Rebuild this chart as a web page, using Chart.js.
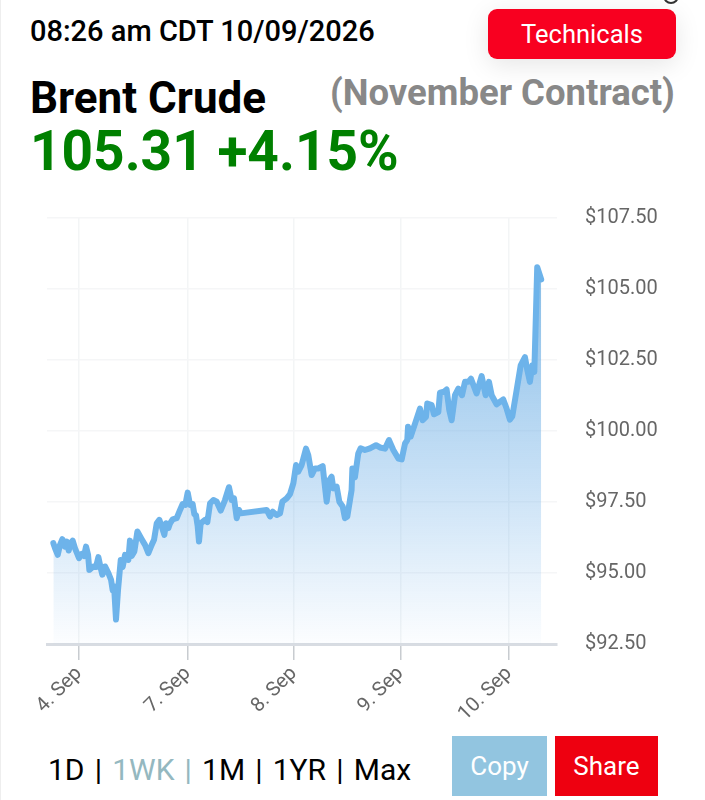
<!DOCTYPE html>
<html>
<head>
<meta charset="utf-8">
<script src="https://cdn.jsdelivr.net/npm/chart.js@4"></script>
<style>
html, body { margin: 0; padding: 0; background: #fff; }
body { width: 705px; height: 800px; position: relative; overflow: hidden; font-family: Roboto, sans-serif; }
.txt { position: absolute; white-space: nowrap; line-height: 1; }
#edge { position: absolute; left: 0; top: 0; width: 1px; height: 800px; background: #eee; }
#speck { position: absolute; left: 663px; top: -12px; width: 12px; height: 12px; border: 2px solid #333; border-radius: 50%; }
#stamp { left: 30px; top: 17px; font-size: 29px; font-weight: 500; color: #000; }
#tech { left: 488px; top: 9px; width: 188px; height: 50px; background: #f80020; border-radius: 9px; color: #fff; font-size: 25.5px; line-height: 50px; text-align: center; box-shadow: 0 6px 26px rgba(0,0,0,0.10); }
#name { left: 30px; top: 76px; font-size: 44px; font-weight: 700; color: #000; }
#contract { left: 330px; top: 75px; font-size: 36.5px; font-weight: 700; color: #888; }
#quote { left: 30px; top: 124px; font-size: 55px; font-weight: 700; color: #008000; }
#range { left: 48px; top: 755px; font-size: 30px; word-spacing: 2.7px; color: #000; white-space: pre; }
#range span { color: #94b8c0; }
.btn { position: absolute; top: 736px; height: 60px; line-height: 61px; text-align: center; color: #fff; font-size: 26px; }
#copy { left: 452px; width: 95px; background: #92c5e0; }
#share { left: 555px; width: 103px; background: #ee0010; }
#wrap { position: absolute; left: 0; top: 190px; width: 705px; height: 540px; }
</style>
</head>
<body>
<div id="edge"></div>
<div id="speck"></div>
<div class="txt" id="stamp">08:26 am CDT 10/09/2026</div>
<div class="txt" id="tech">Technicals</div>
<div class="txt" id="name">Brent Crude</div>
<div class="txt" id="contract">(November Contract)</div>
<div class="txt" id="quote">105.31 +4.15%</div>
<div id="wrap"><canvas id="chart" width="705" height="540"></canvas></div>
<div class="txt" id="range">1D | <span>1WK | </span>1M | 1YR | Max</div>
<div class="btn" id="copy">Copy</div>
<div class="btn" id="share">Share</div>
<script>
// x is in trading sessions counted from the 4. Sep tick
var sessions = [
	-0.239,-0.223,-0.198,-0.177,-0.155,-0.133,-0.115,-0.096,-0.078,-0.059,-0.037,0,0.025,0.047,0.065,0.084,0.096,0.133,0.158,0.18,
	0.202,0.217,0.242,0.273,0.298,0.313,0.326,0.344,0.363,0.388,0.406,0.428,0.459,0.474,0.49,0.515,0.543,0.583,0.614,0.645,
	0.676,0.698,0.723,0.747,0.769,0.794,0.809,0.831,0.847,0.871,0.909,0.94,0.964,0.989,1.011,1.033,1.057,1.073,1.088,1.104,
	1.116,1.132,1.172,1.194,1.219,1.25,1.281,1.318,1.358,1.395,1.42,1.442,1.467,1.488,1.504,1.746,1.777,1.802,1.839,1.87,
	1.892,1.932,1.963,1.994,2.019,2.04,2.071,2.112,2.133,2.164,2.195,2.226,2.267,2.288,2.304,2.329,2.35,2.366,2.397,2.422,
	2.453,2.474,2.496,2.521,2.536,2.543,2.567,2.598,2.62,2.66,2.707,2.763,2.8,2.847,2.884,2.924,2.971,3.002,3.033,3.054,
	3.061,3.085,3.126,3.172,3.197,3.228,3.24,3.281,3.302,3.343,3.358,3.395,3.42,3.445,3.467,3.498,3.529,3.563,3.591,3.622,
	3.647,3.699,3.746,3.783,3.814,3.839,3.885,3.947,3.978,4.009,4.031,4.071,4.109,4.149,4.171,4.195,4.217,4.236,4.263,4.3
];
var prices = [
	96.05,95.87,95.64,95.99,96.19,95.93,96.11,95.79,96.05,96.14,95.87,95.52,95.67,95.6,95.93,95.64,95.11,95.23,95.21,95.56,
	95.17,94.94,95.23,95,94.76,94.39,94.53,93.36,94.41,95.46,95.21,95.64,95.46,96.14,95.6,95.76,96.46,96.19,95.99,95.7,
	95.99,96.17,96.75,96.87,96.64,96.34,96.75,96.58,96.75,96.89,96.93,97.22,97.43,97.4,97.83,97.4,97.43,97.07,97.04,96.64,
	96.11,96.75,96.87,96.79,97.45,97.57,97.51,97.2,97.57,98.02,97.57,97.63,96.93,97.22,97.1,97.22,96.99,97.16,97.04,97.1,
	97.51,97.63,97.78,98.16,98.8,98.57,98.8,99.38,99.15,98.45,98.68,98.68,98.76,98.04,97.51,98.27,98.39,97.98,98.04,97.51,
	97.34,96.93,96.99,97.57,97.92,98.68,98.37,99.21,99.39,99.33,99.39,99.5,99.42,99.38,99.68,99.33,99.03,99,99.56,99.68,
	100.15,99.8,100.26,100.79,100.38,100.5,100.97,100.91,100.59,100.67,101.35,101.38,101.46,100.73,100.38,101.26,101.49,101.26,101.73,101.73,
	101.84,101.32,101.93,101.26,101.73,101.26,100.94,101.11,100.79,100.4,100.52,101.43,102.31,102.6,102.14,101.73,102.31,102.08,105.77,105.34
];
var tickPositions = [0, 1.01, 2, 2.99, 4];
var tickLabels = ['4. Sep', '7. Sep', '8. Sep', '9. Sep', '10. Sep'];
var priceTicks = [92.5, 95, 97.5, 100, 102.5, 105, 107.5];

var points = [];
for (var i = 0; i < sessions.length; i++) {
	points.push({ x: sessions[i], y: prices[i] });
}

function areaGradient(context) {
	var chart = context.chart;
	if (!chart.chartArea) return 'rgba(124,181,236,0.5)';
	var g = chart.ctx.createLinearGradient(0, chart.scales.y.getPixelForValue(106), 0, chart.chartArea.bottom);
	g.addColorStop(0, 'rgba(110,175,225,0.85)');
	g.addColorStop(1, 'rgba(110,175,235,0.02)');
	return g;
}

new Chart(document.getElementById('chart'), {
	type: 'line',
	data: {
		datasets: [{
			data: points,
			borderColor: '#6db3ea',
			borderWidth: 6,
			borderJoinStyle: 'round',
			borderCapStyle: 'round',
			tension: 0,
			pointRadius: 0,
			fill: 'start',
			backgroundColor: areaGradient
		}]
	},
	options: {
		responsive: false,
		animation: false,
		layout: { padding: { left: 47 } },
		plugins: { legend: { display: false }, tooltip: { enabled: false } },
		scales: {
			x: {
				type: 'linear',
				min: -0.298,
				max: 4.447,
				afterBuildTicks: function (scale) {
					scale.ticks = tickPositions.map(function (v) { return { value: v }; });
				},
				afterFit: function (scale) { scale.height = 86; },
				border: { color: '#d8dce2', width: 3 },
				grid: { color: '#f3f5f6', lineWidth: 1.5, tickColor: '#c8ccd0', tickLength: 16, tickWidth: 1.5 },
				ticks: {
					autoSkip: false,
					minRotation: 45,
					maxRotation: 45,
					padding: 2,
					color: '#666',
					font: { family: 'Roboto', size: 20 },
					callback: function (value, index) { return tickLabels[index]; }
				}
			},
			y: {
				position: 'right',
				min: 92.5,
				max: 107.5,
				afterBuildTicks: function (scale) {
					scale.ticks = priceTicks.map(function (v) { return { value: v }; });
				},
				afterFit: function (scale) { scale.width = 148; },
				border: { display: false },
				// label padding also pads the plot top, so part of the gap comes from an invisible tick
				grid: { color: '#f5f6f7', lineWidth: 1.5, tickColor: 'transparent', tickLength: 12 },
				ticks: {
					padding: 16,
					color: '#666',
					font: { family: 'Roboto', size: 20 },
					callback: function (value) { return '$' + value.toFixed(2); }
				}
			}
		}
	}
});
</script>
</body>
</html>
